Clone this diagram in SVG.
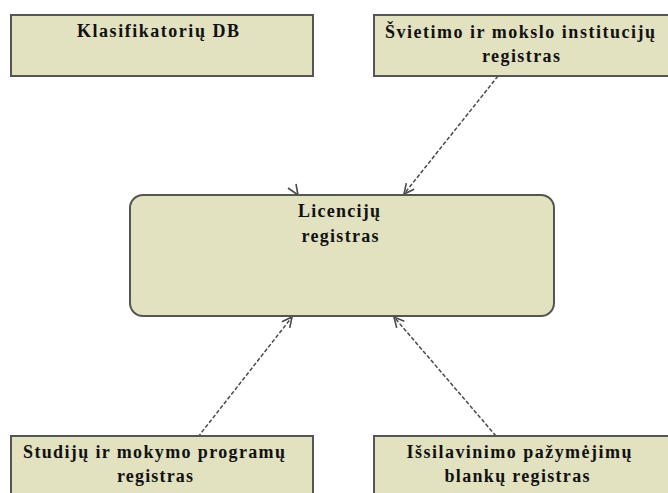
<svg xmlns="http://www.w3.org/2000/svg" width="668" height="493" viewBox="0 0 668 493">
<defs>
<marker id="arr" viewBox="0 0 12 12" refX="11" refY="6" markerWidth="12" markerHeight="12" markerUnits="userSpaceOnUse" orient="auto">
<path d="M1,1 L11,6 L1,11" fill="none" stroke="#4a4a4a" stroke-width="1.6"/>
</marker>
</defs>
<style>
.box{fill:#e2e1c0;stroke:#555;stroke-width:2}
.t{font-family:"Liberation Serif","Times New Roman",serif;font-weight:bold;font-size:18px;fill:#111;text-anchor:middle}
.c{fill:none;stroke:#4a4a4a;stroke-width:1.5;stroke-dasharray:4 2}
</style>
<rect width="668" height="493" fill="#fff"/>
<g id="connectors">
<path class="c" d="M498,76 L404,194" marker-end="url(#arr)"/>
<path class="c" d="M198,437 L292,317" marker-end="url(#arr)"/>
<path class="c" d="M496,436 L394,317" marker-end="url(#arr)"/>
<path d="M288,188 L298,195 L296,184" fill="none" stroke="#4a4a4a" stroke-width="1.6"/>
</g>
<g id="klasifikatoriu">
<rect class="box" x="11" y="15" width="302" height="61"/>
<text class="t" x="158" y="37" textLength="162" lengthAdjust="spacing">Klasifikatorių DB</text>
</g>
<g id="svietimo">
<rect class="box" x="374" y="15" width="302" height="61"/>
<text class="t" x="520" y="38" textLength="270" lengthAdjust="spacing">Švietimo ir mokslo institucijų</text>
<text class="t" x="521" y="62" textLength="78" lengthAdjust="spacing">registras</text>
</g>
<g id="licenciju">
<rect class="box" x="130" y="195" width="424" height="121" rx="13"/>
<text class="t" x="339" y="217" textLength="82" lengthAdjust="spacing">Licencijų</text>
<text class="t" x="340" y="242" textLength="77" lengthAdjust="spacing">registras</text>
</g>
<g id="studiju">
<rect class="box" x="11" y="436" width="302" height="70"/>
<text class="t" x="154" y="458" textLength="262" lengthAdjust="spacing">Studijų ir mokymo programų</text>
<text class="t" x="155" y="482" textLength="76" lengthAdjust="spacing">registras</text>
</g>
<g id="issilavinimo">
<rect class="box" x="374" y="436" width="302" height="70"/>
<text class="t" x="519" y="458" textLength="225" lengthAdjust="spacing">Išsilavinimo pažymėjimų</text>
<text class="t" x="517" y="482" textLength="145" lengthAdjust="spacing">blankų registras</text>
</g>
</svg>
